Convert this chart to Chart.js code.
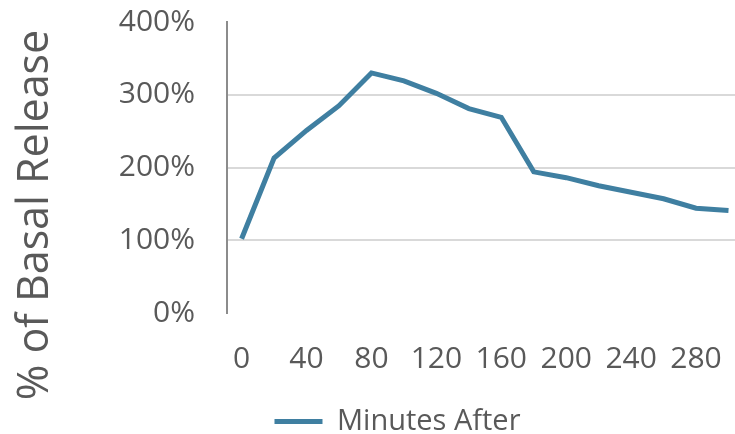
<!DOCTYPE html>
<html>
<head>
<meta charset="utf-8">
<script src="https://cdn.jsdelivr.net/npm/chart.js@4"></script>
<style>
  html, body { margin: 0; padding: 0; background: #fff; }
  #wrap { width: 735px; height: 434px; }
</style>
</head>
<body>
<div id="wrap"><canvas id="releaseChart"></canvas></div>
<script>
// minutes after stimulation (x) and release as % of basal (y)
const minutes = [0, 20, 40, 60, 80, 100, 120, 140, 160, 180, 200, 220, 240, 260, 280, 300];
const release = [102, 213, 251, 285, 330, 319, 302, 281, 269, 194, 186, 175, 166, 157, 144, 141];
const xTickLabels = [0, 40, 80, 120, 160, 200, 240, 280];
const yTickLabels = [0, 100, 200, 300, 400];
const yTitle = '% of Basal Release';

const textColor = '#595959';
const lineColor = '#3f7fa1';

// nudge the legend right and down a bit, like the original
const legendShift = {
  id: 'legendShift',
  afterLayout(chart) {
    const lg = chart.legend;
    lg.left += 30;
    lg.right += 30;
    lg.top += 12;
    lg.bottom += 12;
  }
};

// y axis title sits lower than the plot centre in the original, so draw it here
const sideTitle = {
  id: 'sideTitle',
  afterDraw(chart) {
    const c = chart.ctx;
    c.save();
    c.translate(36, 215);
    c.rotate(-Math.PI / 2);
    c.font = '43px "Open Sans"';
    c.fillStyle = textColor;
    c.textAlign = 'center';
    c.textBaseline = 'middle';
    c.fillText(yTitle, 0, 0);
    c.restore();
  }
};

const ctx = document.getElementById('releaseChart').getContext('2d');

const releaseChart = new Chart(ctx, {
  type: 'line',
  data: {
    datasets: [{
      label: 'Minutes After',
      data: minutes.map((m, i) => ({ x: m, y: release[i] })),
      borderColor: lineColor,
      backgroundColor: lineColor,
      borderWidth: 5,
      tension: 0,
      pointRadius: 0,
      pointStyle: 'line'
    }]
  },
  plugins: [legendShift, sideTitle],
  options: {
    responsive: true,
    maintainAspectRatio: false,
    animation: false,
    layout: { padding: 0 },
    plugins: {
      legend: {
        position: 'bottom',
        maxHeight: 59,
        labels: {
          color: textColor,
          font: { family: 'Open Sans', size: 29 },
          usePointStyle: true,
          pointStyleWidth: 48,
          padding: 4
        }
      },
      tooltip: { enabled: false }
    },
    scales: {
      x: {
        type: 'linear',
        min: -9,
        max: 304,
        afterBuildTicks: (scale) => {
          scale.ticks = xTickLabels.map(v => ({ value: v }));
        },
        afterFit: (scale) => {
          scale.paddingLeft = 0;
          scale.paddingRight = 0;
          scale.height = 78;
        },
        ticks: {
          color: textColor,
          font: { family: 'Open Sans', size: 30 },
          maxRotation: 0,
          autoSkip: false,
          padding: 28
        },
        grid: { display: false, drawTicks: false },
        border: { display: false }
      },
      y: {
        min: 0,
        max: 400,
        afterBuildTicks: (scale) => {
          scale.ticks = yTickLabels.map(v => ({ value: v }));
        },
        afterFit: (scale) => {
          scale.width = 227;
          scale.paddingTop = 22;
          scale.paddingBottom = 0;
        },
        ticks: {
          color: textColor,
          font: { family: 'Open Sans', size: 30 },
          padding: 32,
          callback: (v) => v + '%'
        },
        grid: {
          drawTicks: false,
          lineWidth: 2,
          color: (c) => (c.tick && c.tick.value > 0 && c.tick.value < 400) ? '#d9d9d9' : 'rgba(0,0,0,0)'
        },
        border: { display: true, color: '#8c8c8c', width: 2 }
      }
    }
  }
});
</script>
</body>
</html>
